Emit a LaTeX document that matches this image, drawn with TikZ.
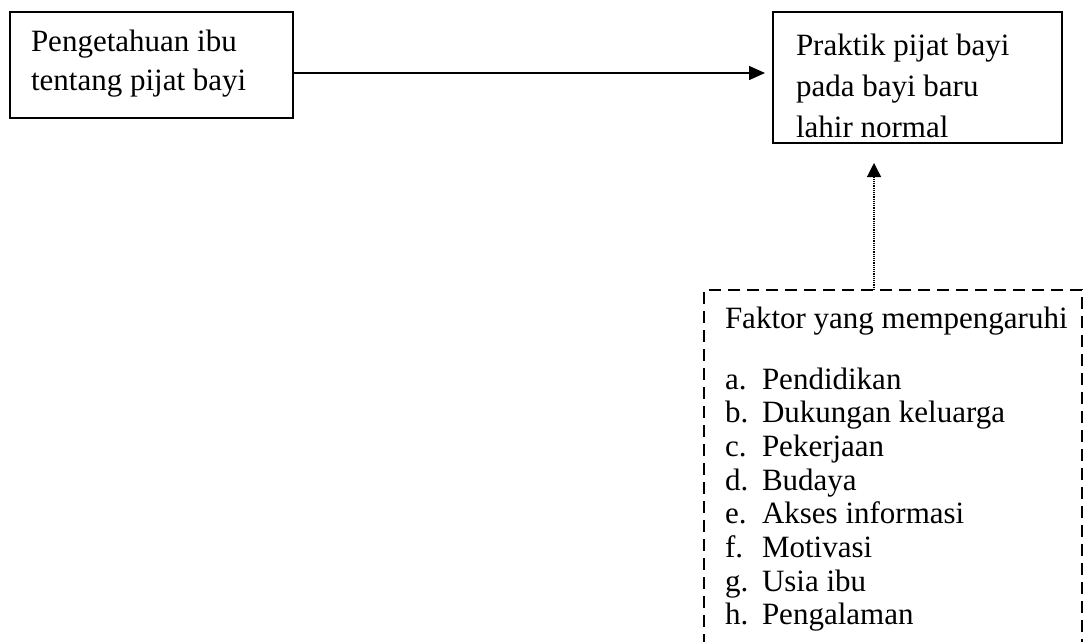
\documentclass[tikz,border=0pt]{standalone}
\usepackage{fontspec}
\setmainfont{Liberation Serif}
\usetikzlibrary{arrows.meta,calc}
\begin{document}
\begin{tikzpicture}[x=1pt,y=1pt,
  solidbox/.style={draw, inner sep=0pt, outer sep=0pt, anchor=north west},
  txt/.style={anchor=base west, inner sep=0pt, outer sep=0pt, font=\fontsize{31}{37}\selectfont},
  arr/.style={-{Triangle[length=16pt,width=14pt]}, line width=1.5pt},
  dotarr/.style={-{Triangle[length=14pt,width=14pt]}, line width=1.2pt, densely dotted},
  dashbox/.style={draw, inner sep=0pt, outer sep=0pt, anchor=north west, line width=2pt, dash pattern=on 12pt off 7pt}]
\useasboundingbox (0,0) rectangle (1086,-641);
\clip (0,0) rectangle (1086,-641);
% boxes
\node[solidbox, line width=2.5pt, minimum width=283pt, minimum height=106pt] (b1) at (10,-12) {};
\node[solidbox, line width=2pt, minimum width=289pt, minimum height=131pt] (b2) at (773,-12) {};
\node[dashbox, minimum width=378pt, minimum height=420pt] (db) at (704,-290) {};
% texts
\node[txt] (t1a) at (31,-51) {Pengetahuan ibu};
\node[txt] (t1b) at (31,-90) {tentang pijat bayi};
\node[txt] (t2a) at (796,-55) {Praktik pijat bayi};
\node[txt] (t2b) at (796,-96) {pada bayi baru};
\node[txt] (t2c) at (796,-137) {lahir normal};
\node[txt] (tf) at (725,-328) {Faktor yang mempengaruhi};
\foreach \l/\t [count=\i from 0] in {a./Pendidikan, b./Dukungan keluarga, c./Pekerjaan, d./Budaya, e./Akses informasi, f./Motivasi, g./Usia ibu, h./Pengalaman}{
  \node[txt] (l\i) at (725,{-389-33.7*\i}) {\l};
  \node[txt] (i\i) at (762,{-389-33.7*\i}) {\t};
}
% connectors
\coordinate (ay) at (0,-73);
\coordinate (ax) at (874,0);
\draw[arr] (b1.east |- ay) -- ($(b2.west |- ay)+(-8,0)$);
\draw[dotarr] (db.north -| ax) -- ($(b2.south -| ax)+(0,-20)$);
\end{tikzpicture}
\end{document}
